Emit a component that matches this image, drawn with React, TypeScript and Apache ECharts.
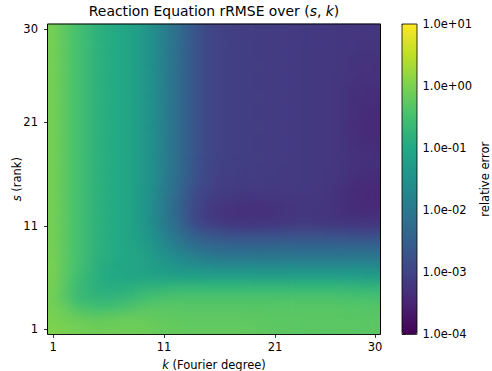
import React, { useEffect, useRef } from "react";
import * as echarts from "echarts";

const kDegrees = ["1","2","3","4","5","6","7","8","9","10","11","12","13","14","15","16","17","18","19","20","21","22","23","24","25","26","27","28","29","30"];
const sRanks = ["1","2","3","4","5","6","7","8","9","10","11","12","13","14","15","16","17","18","19","20","21","22","23","24","25","26","27","28","29","30"];
const kTickLabels = ["1", "11", "21", "30"];
const sTickLabels = ["1", "11", "21", "30"];
const colorbarExponents = [-4, -3, -2, -1, 0, 1];
const colorbarTickLabels = ["1.0e-04", "1.0e-03", "1.0e-02", "1.0e-01", "1.0e+00", "1.0e+01"];
const viridis = ["#440154", "#482475", "#414487", "#355f8d", "#2a788e", "#21918c", "#22a884", "#44bf70", "#7ad151", "#bddf26", "#fde725"];

// log10(relative error); rows from s = 30 (top) down to s = 1 (bottom), columns k = 1..30
const log10ErrorRows: number[][] = [
  [-0.05,-0.25,-0.45,-0.62,-0.80,-0.92,-1.00,-1.10,-1.30,-1.55,-1.85,-2.15,-2.45,-2.75,-2.95,-3.04,-3.07,-3.09,-3.10,-3.11,-3.12,-3.14,-3.15,-3.17,-3.18,-3.19,-3.20,-3.21,-3.22,-3.22],
  [-0.05,-0.25,-0.45,-0.62,-0.80,-0.92,-1.00,-1.10,-1.30,-1.55,-1.85,-2.15,-2.45,-2.75,-2.95,-3.04,-3.07,-3.09,-3.10,-3.11,-3.12,-3.14,-3.15,-3.17,-3.18,-3.19,-3.20,-3.21,-3.22,-3.22],
  [-0.05,-0.25,-0.45,-0.62,-0.80,-0.92,-1.00,-1.10,-1.30,-1.55,-1.85,-2.15,-2.45,-2.75,-2.95,-3.04,-3.07,-3.09,-3.10,-3.11,-3.12,-3.14,-3.15,-3.17,-3.18,-3.19,-3.20,-3.22,-3.23,-3.24],
  [-0.05,-0.25,-0.45,-0.62,-0.80,-0.92,-1.00,-1.10,-1.30,-1.55,-1.85,-2.15,-2.45,-2.75,-2.95,-3.04,-3.07,-3.09,-3.10,-3.11,-3.12,-3.14,-3.15,-3.17,-3.18,-3.19,-3.21,-3.24,-3.26,-3.27],
  [-0.05,-0.25,-0.45,-0.62,-0.80,-0.92,-1.00,-1.10,-1.30,-1.55,-1.85,-2.15,-2.45,-2.75,-2.95,-3.04,-3.07,-3.09,-3.10,-3.11,-3.12,-3.14,-3.15,-3.17,-3.18,-3.19,-3.21,-3.25,-3.27,-3.28],
  [-0.05,-0.25,-0.45,-0.62,-0.80,-0.92,-1.00,-1.10,-1.30,-1.55,-1.85,-2.15,-2.45,-2.75,-2.95,-3.04,-3.07,-3.09,-3.10,-3.11,-3.12,-3.14,-3.15,-3.17,-3.18,-3.19,-3.22,-3.27,-3.29,-3.30],
  [-0.05,-0.25,-0.45,-0.62,-0.80,-0.92,-1.00,-1.10,-1.30,-1.55,-1.85,-2.15,-2.45,-2.75,-2.95,-3.04,-3.07,-3.09,-3.10,-3.11,-3.12,-3.14,-3.15,-3.17,-3.18,-3.19,-3.23,-3.29,-3.32,-3.34],
  [-0.05,-0.25,-0.45,-0.62,-0.80,-0.92,-1.00,-1.10,-1.30,-1.55,-1.85,-2.15,-2.45,-2.75,-2.95,-3.04,-3.07,-3.09,-3.10,-3.11,-3.12,-3.14,-3.15,-3.17,-3.18,-3.19,-3.24,-3.31,-3.35,-3.37],
  [-0.05,-0.25,-0.45,-0.62,-0.80,-0.92,-1.00,-1.10,-1.30,-1.55,-1.85,-2.15,-2.45,-2.75,-2.95,-3.04,-3.07,-3.09,-3.10,-3.11,-3.12,-3.14,-3.15,-3.17,-3.18,-3.19,-3.25,-3.32,-3.37,-3.39],
  [-0.05,-0.25,-0.45,-0.62,-0.80,-0.92,-1.00,-1.10,-1.30,-1.55,-1.85,-2.15,-2.45,-2.75,-2.95,-3.04,-3.07,-3.09,-3.10,-3.11,-3.12,-3.14,-3.15,-3.17,-3.18,-3.19,-3.25,-3.33,-3.38,-3.40],
  [-0.05,-0.25,-0.45,-0.62,-0.80,-0.92,-1.00,-1.10,-1.30,-1.55,-1.85,-2.15,-2.45,-2.75,-2.95,-3.04,-3.07,-3.09,-3.10,-3.11,-3.12,-3.14,-3.15,-3.17,-3.18,-3.19,-3.25,-3.33,-3.38,-3.40],
  [-0.05,-0.25,-0.45,-0.62,-0.80,-0.92,-1.00,-1.10,-1.30,-1.55,-1.85,-2.15,-2.45,-2.75,-2.95,-3.04,-3.07,-3.09,-3.10,-3.11,-3.12,-3.14,-3.15,-3.17,-3.18,-3.19,-3.24,-3.31,-3.36,-3.38],
  [-0.05,-0.25,-0.45,-0.62,-0.80,-0.92,-1.00,-1.10,-1.30,-1.55,-1.85,-2.15,-2.45,-2.75,-2.95,-3.04,-3.07,-3.09,-3.10,-3.11,-3.12,-3.14,-3.15,-3.17,-3.18,-3.19,-3.23,-3.28,-3.32,-3.34],
  [-0.05,-0.25,-0.45,-0.62,-0.80,-0.92,-1.00,-1.10,-1.30,-1.55,-1.85,-2.15,-2.45,-2.75,-2.95,-3.04,-3.07,-3.09,-3.10,-3.11,-3.12,-3.14,-3.15,-3.17,-3.18,-3.19,-3.22,-3.26,-3.29,-3.30],
  [-0.05,-0.25,-0.45,-0.62,-0.80,-0.92,-1.00,-1.10,-1.30,-1.55,-1.85,-2.15,-2.46,-2.77,-2.96,-3.05,-3.08,-3.10,-3.11,-3.12,-3.13,-3.15,-3.16,-3.17,-3.18,-3.20,-3.24,-3.30,-3.34,-3.36],
  [-0.05,-0.25,-0.45,-0.62,-0.80,-0.92,-1.00,-1.10,-1.30,-1.56,-1.88,-2.20,-2.52,-2.82,-2.99,-3.08,-3.11,-3.13,-3.13,-3.13,-3.14,-3.15,-3.16,-3.17,-3.19,-3.21,-3.27,-3.34,-3.38,-3.40],
  [-0.05,-0.25,-0.45,-0.62,-0.80,-0.92,-1.00,-1.10,-1.31,-1.60,-1.92,-2.25,-2.60,-2.90,-3.05,-3.12,-3.16,-3.18,-3.18,-3.18,-3.18,-3.18,-3.18,-3.19,-3.21,-3.24,-3.31,-3.38,-3.41,-3.42],
  [-0.05,-0.25,-0.45,-0.62,-0.80,-0.92,-1.00,-1.10,-1.32,-1.62,-1.95,-2.28,-2.65,-2.95,-3.12,-3.20,-3.25,-3.28,-3.29,-3.28,-3.26,-3.24,-3.22,-3.22,-3.23,-3.25,-3.32,-3.38,-3.40,-3.40],
  [-0.05,-0.25,-0.45,-0.62,-0.80,-0.92,-1.00,-1.10,-1.32,-1.62,-1.95,-2.28,-2.65,-2.98,-3.15,-3.23,-3.28,-3.30,-3.30,-3.29,-3.27,-3.24,-3.22,-3.22,-3.23,-3.24,-3.29,-3.32,-3.33,-3.33],
  [-0.05,-0.25,-0.45,-0.62,-0.80,-0.92,-1.00,-1.10,-1.31,-1.60,-1.90,-2.20,-2.55,-2.85,-3.02,-3.10,-3.15,-3.17,-3.18,-3.17,-3.15,-3.13,-3.12,-3.12,-3.13,-3.14,-3.16,-3.18,-3.18,-3.18],
  [-0.05,-0.25,-0.45,-0.62,-0.80,-0.92,-1.00,-1.10,-1.27,-1.50,-1.78,-2.05,-2.30,-2.50,-2.62,-2.70,-2.74,-2.76,-2.76,-2.76,-2.75,-2.75,-2.75,-2.75,-2.75,-2.76,-2.78,-2.80,-2.80,-2.80],
  [-0.05,-0.25,-0.45,-0.62,-0.80,-0.92,-1.00,-1.08,-1.21,-1.40,-1.62,-1.85,-2.05,-2.20,-2.30,-2.36,-2.38,-2.38,-2.38,-2.38,-2.38,-2.38,-2.38,-2.38,-2.38,-2.38,-2.38,-2.38,-2.38,-2.38],
  [-0.05,-0.25,-0.45,-0.62,-0.80,-0.92,-1.00,-1.05,-1.14,-1.28,-1.45,-1.62,-1.76,-1.88,-1.96,-2.02,-2.04,-2.04,-2.04,-2.04,-2.04,-2.04,-2.04,-2.04,-2.04,-2.04,-2.04,-2.04,-2.04,-2.04],
  [-0.03,-0.25,-0.45,-0.65,-0.85,-0.97,-1.03,-1.07,-1.13,-1.22,-1.32,-1.42,-1.50,-1.55,-1.59,-1.62,-1.62,-1.62,-1.62,-1.62,-1.62,-1.62,-1.62,-1.62,-1.62,-1.62,-1.62,-1.62,-1.62,-1.62],
  [-0.03,-0.28,-0.50,-0.70,-0.88,-0.98,-1.03,-1.05,-1.07,-1.09,-1.11,-1.13,-1.15,-1.15,-1.16,-1.16,-1.16,-1.16,-1.16,-1.16,-1.16,-1.16,-1.16,-1.16,-1.16,-1.16,-1.17,-1.18,-1.19,-1.20],
  [-0.05,-0.30,-0.55,-0.72,-0.85,-0.90,-0.90,-0.85,-0.80,-0.75,-0.72,-0.70,-0.70,-0.70,-0.70,-0.70,-0.70,-0.70,-0.70,-0.70,-0.70,-0.70,-0.70,-0.70,-0.70,-0.70,-0.71,-0.72,-0.74,-0.75],
  [-0.08,-0.30,-0.55,-0.68,-0.75,-0.75,-0.72,-0.65,-0.55,-0.48,-0.44,-0.42,-0.42,-0.42,-0.42,-0.42,-0.42,-0.42,-0.42,-0.42,-0.42,-0.42,-0.42,-0.42,-0.42,-0.42,-0.43,-0.44,-0.45,-0.46],
  [-0.05,-0.18,-0.35,-0.45,-0.50,-0.50,-0.45,-0.38,-0.32,-0.30,-0.30,-0.31,-0.32,-0.32,-0.32,-0.32,-0.32,-0.32,-0.32,-0.32,-0.32,-0.32,-0.32,-0.32,-0.32,-0.32,-0.33,-0.34,-0.35,-0.35],
  [0.00,-0.08,-0.15,-0.20,-0.22,-0.20,-0.18,-0.17,-0.18,-0.20,-0.22,-0.24,-0.25,-0.25,-0.25,-0.25,-0.25,-0.25,-0.26,-0.27,-0.28,-0.29,-0.30,-0.30,-0.30,-0.30,-0.30,-0.30,-0.30,-0.30],
  [0.02,0.00,-0.05,-0.08,-0.10,-0.10,-0.10,-0.10,-0.12,-0.15,-0.18,-0.20,-0.22,-0.22,-0.22,-0.22,-0.22,-0.22,-0.23,-0.25,-0.27,-0.28,-0.29,-0.30,-0.30,-0.30,-0.30,-0.30,-0.30,-0.30],
];

const FONT = "DejaVu Sans";
const GRID = { left: 47.5, top: 24, width: 333, height: 310.4, containLabel: false, outerBoundsMode: "none" };

function heatmapData(): [number, number, number][] {
  const data: [number, number, number][] = [];
  const nRows = log10ErrorRows.length;
  log10ErrorRows.forEach((row, r) => {
    const sIdx = nRows - 1 - r;
    row.forEach((v, kIdx) => data.push([kIdx, sIdx, v]));
  });
  return data;
}

function heatSeries() {
  return {
    type: "heatmap", xAxisIndex: 0, yAxisIndex: 0, data: heatmapData(),
    itemStyle: { borderWidth: 0 },
    emphasis: { disabled: true },
    progressive: 0,
  };
}

function mainOption() {
  const italic = { fontStyle: "italic", fontFamily: FONT, fontSize: 11.5, color: "#000" };
  const tickStyle = { color: "#000", width: 0.8 };
  return {
    animation: false,
    backgroundColor: "#fff",
    textStyle: { fontFamily: FONT },
    title: {
      text: "Reaction Equation rRMSE over ({i|s}, {i|k})",
      left: 214,
      top: 4,
      padding: 0,
      textAlign: "center",
      textStyle: {
        fontFamily: FONT, fontSize: 13.9, fontWeight: "normal", color: "#000",
        rich: { i: { fontStyle: "italic", fontFamily: FONT, fontSize: 13.9, color: "#000" } },
      },
    },
    grid: [
      { ...GRID, show: true, borderColor: "#000", borderWidth: 1, backgroundColor: "transparent", z: 5 },
      { left: 402, top: 24, width: 15, height: 310.4, containLabel: false, outerBoundsMode: "none", show: true, borderColor: "#000", borderWidth: 0.8, backgroundColor: "transparent", z: 6 },
    ],
    xAxis: [
      {
        type: "category", gridIndex: 0, data: kDegrees,
        axisLine: { show: false },
        axisTick: { show: true, alignWithLabel: true, length: 3.5, lineStyle: tickStyle, interval: (i: number) => kTickLabels.includes(kDegrees[i]) },
        axisLabel: { interval: (i: number) => kTickLabels.includes(kDegrees[i]), color: "#000", fontSize: 11.5, fontFamily: FONT, margin: 6.5 },
        splitLine: { show: false },
        name: "{i|k} (Fourier degree)",
        nameLocation: "middle", nameGap: 24.5, nameMoveOverlap: false,
        nameTextStyle: { color: "#000", fontSize: 11.5, fontFamily: FONT, rich: { i: italic } },
      },
      { type: "value", gridIndex: 1, show: false, min: 0, max: 1 },
    ],
    yAxis: [
      {
        type: "category", gridIndex: 0, data: sRanks,
        axisLine: { show: false },
        axisTick: { show: true, alignWithLabel: true, length: 3.5, lineStyle: tickStyle, interval: (i: number) => sTickLabels.includes(sRanks[i]) },
        axisLabel: { interval: (i: number) => sTickLabels.includes(sRanks[i]), color: "#000", fontSize: 11.5, fontFamily: FONT, margin: 9.5 },
        splitLine: { show: false },
        name: "{i|s} (rank)",
        nameLocation: "middle", nameGap: 25, nameRotate: 90, nameMoveOverlap: false,
        nameTextStyle: { color: "#000", fontSize: 11.5, fontFamily: FONT, rich: { i: italic } },
      },
      {
        type: "value", gridIndex: 1, position: "right", min: -4, max: 1, interval: 1,
        axisLine: { show: false },
        axisTick: { show: true, length: 3.5, lineStyle: tickStyle },
        axisLabel: {
          color: "#000", fontSize: 11.5, fontFamily: FONT, margin: 5.5,
          formatter: (v: number) => colorbarTickLabels[colorbarExponents.indexOf(v)] ?? "",
        },
        splitLine: { show: false },
        name: "relative error",
        nameLocation: "middle", nameGap: 62, nameRotate: 90, nameMoveOverlap: false,
        nameTextStyle: { color: "#000", fontSize: 11.5, fontFamily: FONT },
      },
    ],
    visualMap: {
      type: "continuous", min: -4, max: 1, dimension: 2, seriesIndex: 0,
      inRange: { color: viridis },
      orient: "vertical", left: 402, top: 24, itemWidth: 15, itemHeight: 310.4,
      padding: 0, calculable: false, hoverLink: false, realtime: false,
      textStyle: { fontSize: 0 },
    },
    series: [heatSeries()],
  };
}

// same heatmap on the same grid, shown through a smoothing filter (matplotlib-style interpolation)
function smoothOption() {
  return {
    animation: false,
    backgroundColor: "transparent",
    grid: { ...GRID, show: false },
    xAxis: { type: "category", data: kDegrees, show: false },
    yAxis: { type: "category", data: sRanks, show: false },
    visualMap: { type: "continuous", min: -4, max: 1, dimension: 2, show: false, inRange: { color: viridis } },
    series: [heatSeries()],
  };
}

export default function App() {
  const mainRef = useRef<HTMLDivElement>(null);
  const smoothRef = useRef<HTMLDivElement>(null);
  useEffect(() => {
    if (!mainRef.current || !smoothRef.current) return;
    const main = echarts.init(mainRef.current, undefined, { renderer: "svg", width: 492, height: 371 });
    main.setOption(mainOption() as any);
    const smooth = echarts.init(smoothRef.current, undefined, { renderer: "svg", width: 492, height: 371 });
    smooth.setOption(smoothOption() as any);
    return () => {
      main.dispose();
      smooth.dispose();
    };
  }, []);
  const clipL = 48.2, clipT = 24.7;
  return (
    <div style={{ position: "absolute", left: 0, top: 0, width: 492, height: 371, background: "#fff", overflow: "hidden" }}>
      <svg width="0" height="0" style={{ position: "absolute" }}>
        <defs>
          <filter id="heatSmooth" x="-5%" y="-5%" width="110%" height="110%" colorInterpolationFilters="sRGB">
            <feGaussianBlur stdDeviation="4.5" />
            <feComponentTransfer>
              <feFuncA type="linear" slope="40" intercept="0" />
            </feComponentTransfer>
          </filter>
        </defs>
      </svg>
      <div ref={mainRef} style={{ position: "absolute", left: 0, top: 0, width: 492, height: 371 }} />
      <div style={{ position: "absolute", left: clipL, top: clipT, width: 331.6, height: 309, overflow: "hidden", pointerEvents: "none" }}>
        <div ref={smoothRef} style={{ position: "absolute", left: -clipL, top: -clipT, width: 492, height: 371, filter: "url(#heatSmooth)" }} />
      </div>
    </div>
  );
}
